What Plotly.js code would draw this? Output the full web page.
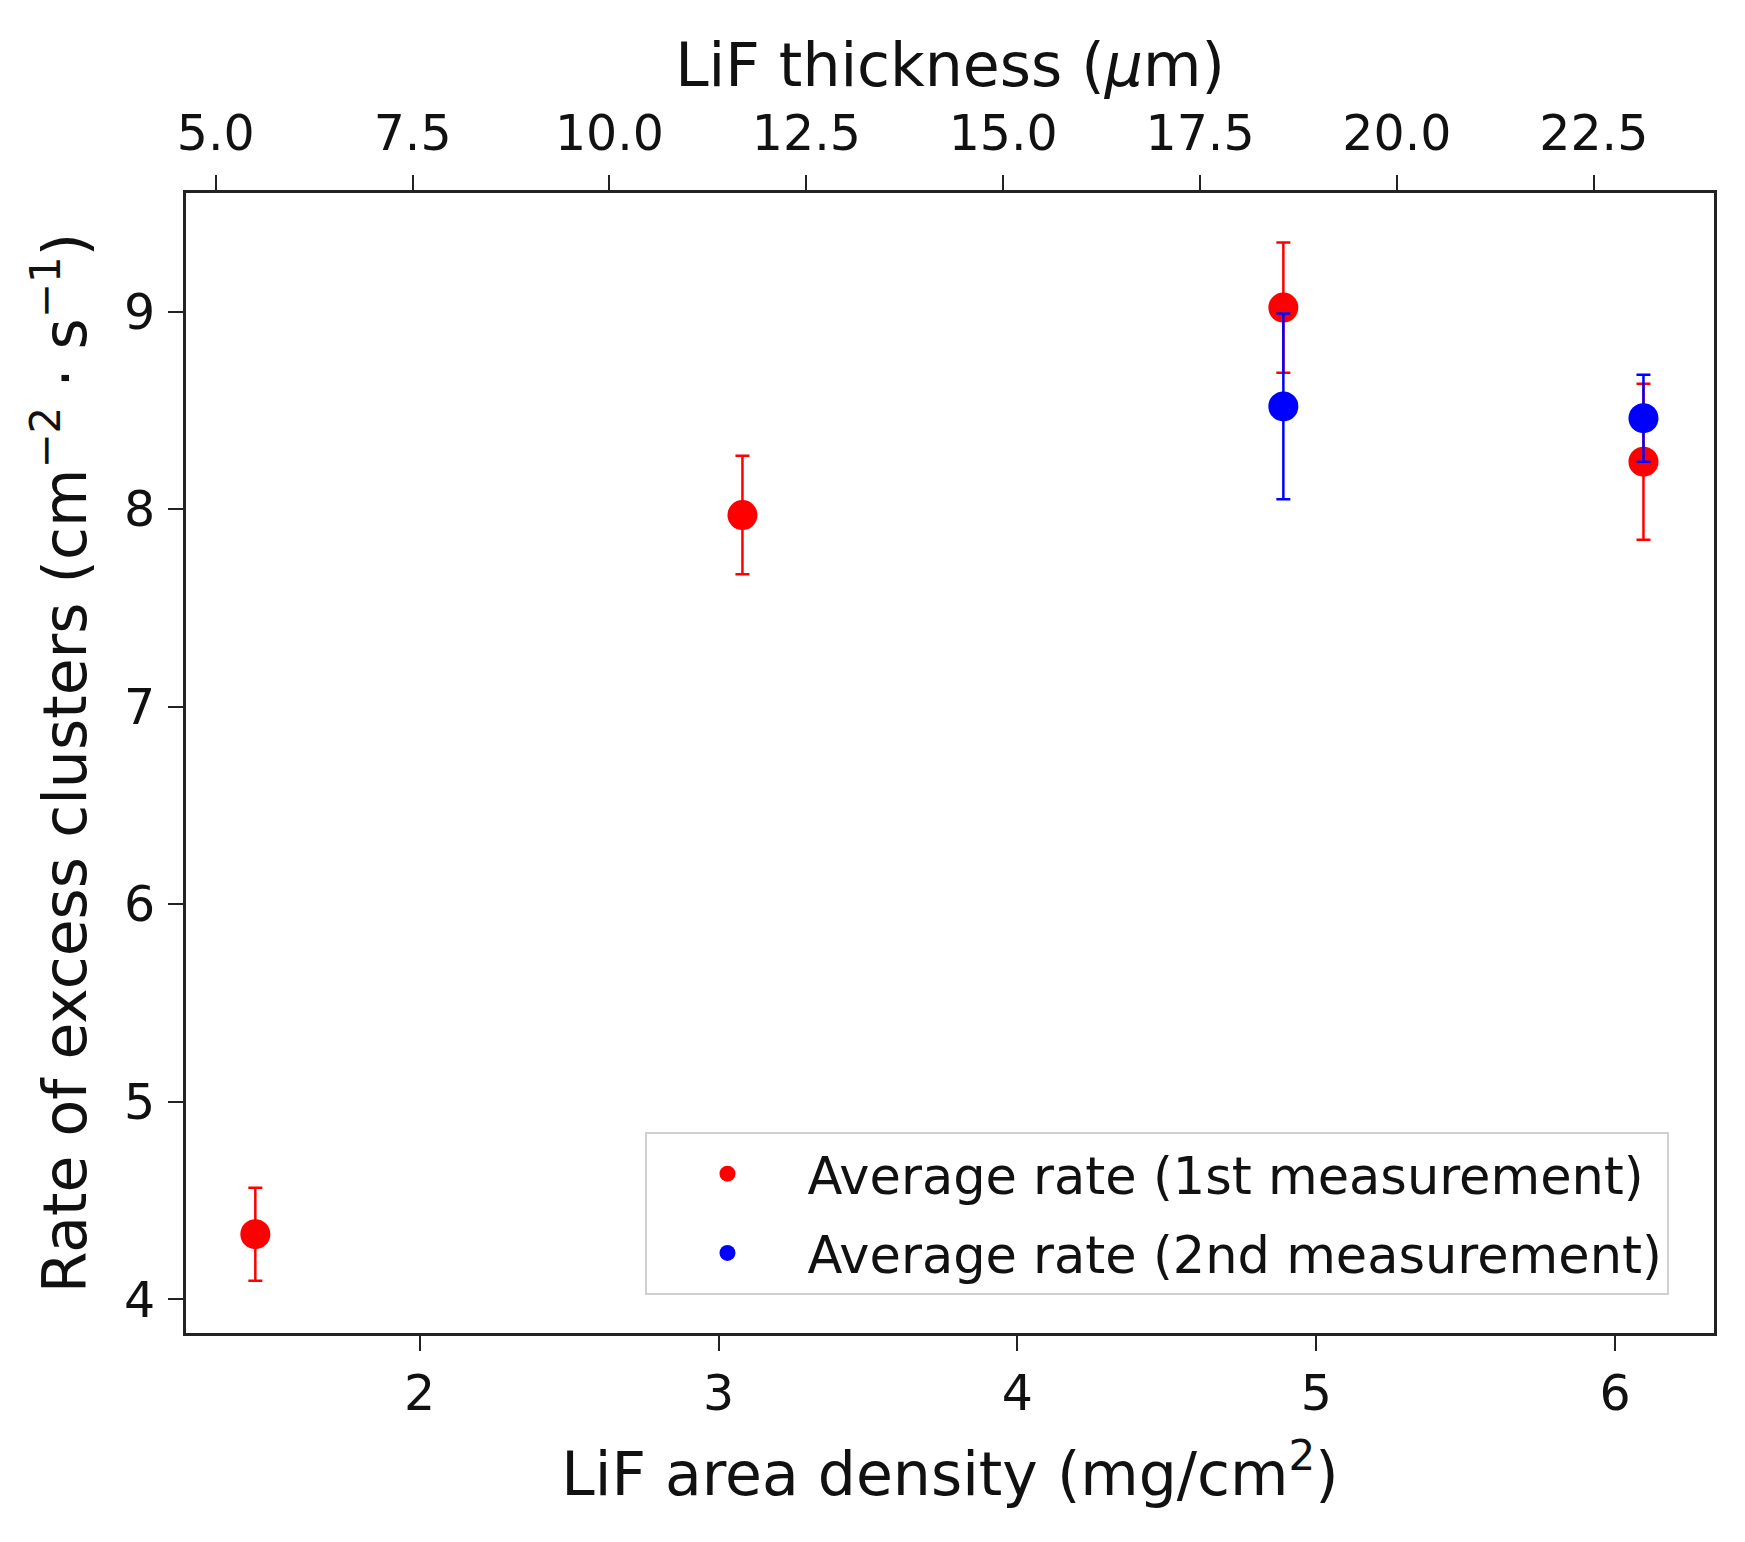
<!DOCTYPE html>
<html>
<head>
<meta charset="utf-8">
<script src="https://cdn.plot.ly/plotly-3.0.1.min.js"></script>
<style>
  html, body { margin: 0; padding: 0; background: #fff; }
  #chart { width: 1745px; height: 1542px; }
</style>
</head>
<body>
<div id="chart"></div>
<script>
// LiF area density (mg/cm^2) for each measurement
const density1 = [1.45, 3.08, 4.89, 6.095];
const rate1 = [4.33, 7.97, 9.02, 8.24];
const err1 = [0.235, 0.30, 0.33, 0.395];

const density2 = [4.89, 6.095];
const rate2 = [8.52, 8.46];
const err2 = [0.47, 0.22];

const name1 = "Average rate (1st measurement)";
const name2 = "Average rate (2nd measurement)";

// thickness (um) = area density (mg/cm^2) / LiF density (g/cm^3) * 10
const lifDensity = 2.635;
const densityRange = [1.218, 6.331];
const rateRange = [3.83, 9.60];
const thicknessTicks = [5.0, 7.5, 10.0, 12.5, 15.0, 17.5, 20.0, 22.5];

const FONT = "DejaVu Sans, sans-serif";
const AXIS_COLOR = "#222";
const toThickness = d => d * 10 / lifDensity;

function errTrace(x, y, err, color, name, group) {
    return {
        type: "scatter",
        mode: "markers",
        name: name,
        legendgroup: group,
        x: x,
        y: y,
        marker: {color: color, size: 30},
        error_y: {
            type: "data",
            array: err,
            visible: true,
            color: color,
            thickness: 2.5,
            width: 7
        },
        xaxis: "x",
        yaxis: "y"
    };
}

const traces = [
    errTrace(density1, rate1, err1, "#ff0000", name1, "first"),
    errTrace(density2, rate2, err2, "#0000ff", name2, "second"),
    // same points on the thickness axis, invisible, so the top axis is drawn
    {
        type: "scatter",
        mode: "markers",
        x: density1.map(toThickness),
        y: rate1,
        xaxis: "x2",
        yaxis: "y",
        marker: {opacity: 0},
        showlegend: false,
        hoverinfo: "skip"
    }
];

const baseAxis = {
    showgrid: false,
    zeroline: false,
    showline: true,
    linecolor: AXIS_COLOR,
    linewidth: 3,
    ticks: "outside",
    ticklen: 15,
    tickwidth: 2,
    tickcolor: AXIS_COLOR,
    tickfont: {family: FONT, size: 49, color: "#111"},
    automargin: false
};

const titleFont = {family: FONT, size: 60, color: "#111"};

const layout = {
    width: 1745,
    height: 1542,
    paper_bgcolor: "white",
    plot_bgcolor: "white",
    margin: {l: 186, r: 31, t: 193, b: 209},
    showlegend: true,
    xaxis: {
        ...baseAxis,
        range: densityRange,
        tickvals: [2, 3, 4, 5, 6],
        mirror: true,
        ticklabelstandoff: 0,
        title: {
            text: "LiF area density (mg/cm<sup>2</sup>)",
            font: titleFont,
            standoff: 33
        }
    },
    xaxis2: {
        ...baseAxis,
        overlaying: "x",
        side: "top",
        anchor: "y",
        range: densityRange.map(toThickness),
        tickvals: thicknessTicks,
        ticktext: thicknessTicks.map(t => t.toFixed(1)),
        ticklabelstandoff: 5,
        title: {
            text: "LiF thickness (<i>μ</i>m)",
            font: titleFont,
            standoff: 0
        }
    },
    yaxis: {
        ...baseAxis,
        range: rateRange,
        tickvals: [4, 5, 6, 7, 8, 9],
        mirror: true,
        ticklabelstandoff: 3,
        title: {
            text: "Rate of excess clusters (cm<sup>−2</sup> · s<sup>−1</sup>)",
            font: titleFont,
            standoff: 19
        }
    },
    legend: {
        x: 0.3007,
        y: 0.1763,
        xanchor: "left",
        yanchor: "top",
        bgcolor: "rgba(255,255,255,0.8)",
        bordercolor: "#d0d0d0",
        borderwidth: 2,
        itemwidth: 150,
        traceorder: "grouped",
        tracegroupgap: 10,
        font: {family: FONT, size: 51, color: "#111"}
    }
};

Plotly.newPlot("chart", traces, layout, {displayModeBar: false, staticPlot: true});
</script>
</body>
</html>
